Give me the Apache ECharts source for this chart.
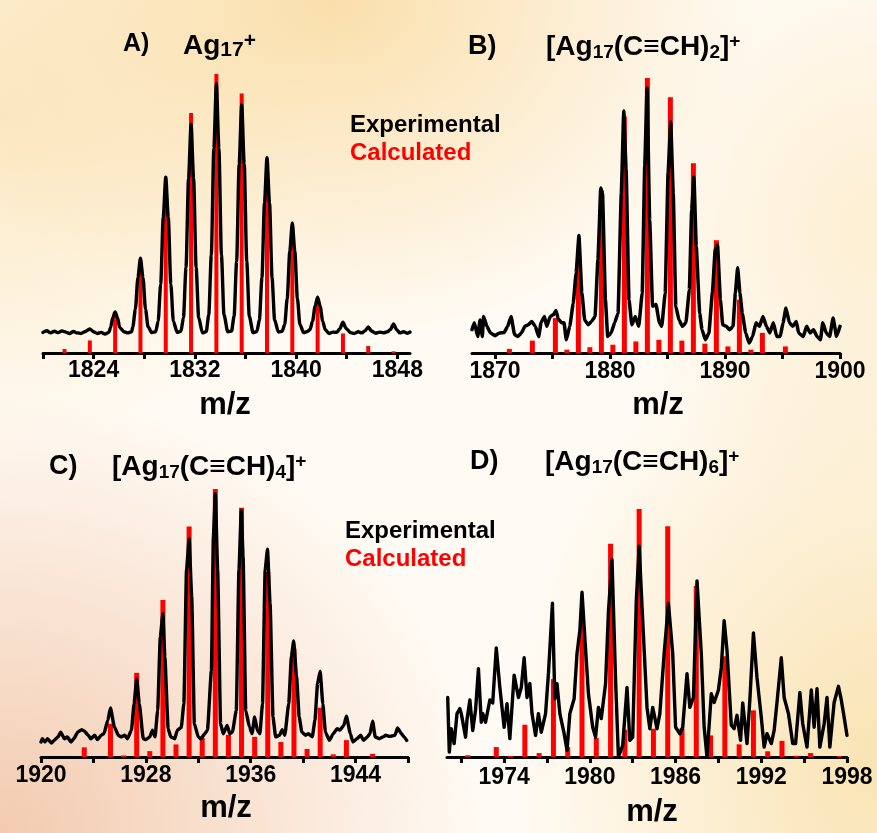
<!DOCTYPE html>
<html>
<head>
<meta charset="utf-8">
<script src="https://cdn.jsdelivr.net/npm/echarts@6/dist/echarts.min.js"></script>
<style>
html,body{margin:0;padding:0;}
body{width:877px;height:833px;overflow:hidden;
background:
 radial-gradient(ellipse 430px 340px at 330px 0px, rgba(249,218,158,0.85), rgba(249,218,158,0) 100%),
 radial-gradient(ellipse 320px 330px at 0px 120px, rgba(251,230,188,0.85), rgba(251,230,188,0) 100%),
 radial-gradient(ellipse 480px 440px at 0px 833px, rgba(242,200,172,0.95), rgba(242,200,172,0) 100%),
 radial-gradient(ellipse 360px 470px at 877px 760px, rgba(249,225,172,0.9), rgba(249,225,172,0) 100%),
 radial-gradient(ellipse 260px 300px at 877px 230px, rgba(252,234,196,0.7), rgba(252,234,196,0) 100%),
 #fffaf3;}
#chart{width:877px;height:833px;}
</style>
</head>
<body>
<div id="chart"></div>
<script>
// ---------- Data ----------
// Panel A: Ag17+
const calcA = [[1821.7,1.4],[1823.7,4.5],[1825.7,13],[1827.7,32],[1829.7,59],[1831.7,86],[1833.7,100],[1835.7,93],[1837.7,69],[1839.7,41],[1841.7,19],[1843.7,7],[1845.7,2.5],[1847.7,0.6]];
const expA = [[1820.0,7.4],[1820.3,8.0],[1820.6,7.2],[1820.9,7.8],[1821.2,7.3],[1821.5,7.9],[1821.8,7.5],[1822.1,7.0],[1822.4,7.7],[1822.7,7.2],[1823.0,7.0],[1823.3,7.6],[1823.7,8.6],[1824.0,7.6],[1824.3,7.0],[1824.6,7.4],[1824.9,6.8],[1825.2,7.4],
[1825.35,9.2],[1825.5,12.6],[1825.7,14.7],[1825.9,12.6],[1826.05,9.2],[1826.4,7.6],[1826.7,7.2],[1827.0,7.6],
[1827.1,9.4],[1827.3,15.7],[1827.5,27.1],[1827.7,34],[1827.9,27.1],[1828.1,15.7],[1828.3,9.4],[1828.6,7.3],[1828.9,7.6],
[1829.1,11.4],[1829.3,24.7],[1829.5,48.6],[1829.7,63],[1829.9,48.6],[1830.1,24.7],[1830.3,11.4],[1830.6,7.4],[1830.9,7.8],
[1831.1,12.7],[1831.3,30.6],[1831.5,62.6],[1831.7,82],[1831.9,62.6],[1832.1,30.6],[1832.3,12.7],[1832.6,7.2],[1832.9,7.7],
[1833.1,13.7],[1833.3,35.1],[1833.5,73.3],[1833.7,96.4],[1833.9,73.3],[1834.1,35.1],[1834.3,13.7],[1834.6,7.6],[1834.9,7.9],
[1835.1,13.2],[1835.3,32.8],[1835.5,67.8],[1835.7,89],[1835.9,67.8],[1836.1,32.8],[1836.3,13.2],[1836.6,7.3],[1836.9,7.7],
[1837.1,11.9],[1837.3,26.9],[1837.5,53.8],[1837.7,70],[1837.9,53.8],[1838.1,26.9],[1838.3,11.9],[1838.6,7.5],[1838.9,7.8],
[1839.1,10.2],[1839.3,19.6],[1839.5,36.4],[1839.7,46.6],[1839.9,36.4],[1840.1,19.6],[1840.3,10.2],[1840.6,7.3],[1840.9,7.7],
[1841.1,8.4],[1841.3,11.4],[1841.5,16.8],[1841.7,20],[1841.9,16.8],[1842.1,11.4],[1842.3,8.4],[1842.6,7.0],[1842.9,7.5],[1843.2,7.4],
[1843.45,8.6],[1843.7,11],[1843.95,8.8],[1844.3,7.3],[1844.6,7.0],[1844.9,7.6],[1845.2,7.2],
[1845.45,8.0],[1845.7,9.3],[1845.95,7.9],[1846.3,7.1],[1846.6,7.5],[1846.9,7.2],[1847.2,7.6],
[1847.45,8.4],[1847.7,10.4],[1847.95,8.3],[1848.2,7.2],[1848.5,7.6],[1848.8,7.1],[1849.0,7.5]];
const ticksA = [1820,1824,1828,1832,1836,1840,1844,1848];
const labelsA = [1824,1832,1840,1848];

// Panel B: [Ag17(C≡CH)2]+
const calcB = [[1871.25,1.5],[1873.25,4.5],[1875.25,12.7],[1876.25,1.2],[1877.25,32],[1878.25,2.1],[1879.25,59],[1880.25,3.0],[1881.25,86],[1882.25,4.2],[1883.25,100],[1884.25,4.8],[1885.25,93],[1886.25,4.5],[1887.25,69],[1888.25,3.4],[1889.25,41],[1890.25,2.4],[1891.25,19.4],[1892.25,1.2],[1893.25,7.3],[1895.25,2.4]];
const expB = [[1868.0,8.5],[1868.2,11],[1868.5,6],[1868.7,12],[1868.9,6],[1869.0,13.3],[1869.3,9.7],[1869.6,7.3],[1870.0,6.3],[1870.4,7.3],[1870.8,7.5],[1871.1,9.7],[1871.4,13.3],[1871.7,6.7],[1872.0,6],[1872.3,7.3],[1872.6,9.7],[1872.9,10.3],[1873.2,11.5],[1873.5,9.7],[1873.8,6],[1874.0,11],[1874.3,13.3],[1874.5,9.7],[1874.8,13.3],[1875.1,14],[1875.3,15.5],[1875.5,12.4],[1875.8,11],[1876.0,11],[1876.2,4.8],[1876.5,9.7],[1876.8,18],[1877.05,29],[1877.3,42.7],[1877.55,22],[1877.8,12],[1878.1,10.3],[1878.4,11.5],[1878.7,13.3],[1878.95,34],[1879.2,60],[1879.35,58],[1879.6,19.4],[1879.8,6],[1880.1,7.3],[1880.4,11],[1880.7,14.5],[1880.98,58],[1881.2,88],[1881.4,66.7],[1881.65,19.4],[1881.9,10.3],[1882.2,13.3],[1882.5,9.7],[1882.8,21.8],[1883.02,68],[1883.22,96.4],[1883.45,48.5],[1883.7,17],[1884.0,17.6],[1884.3,11],[1884.5,9.7],[1884.8,21.8],[1885.05,65.5],[1885.28,84],[1885.5,58],[1885.72,17],[1886.0,12],[1886.3,9.7],[1886.6,11],[1886.9,23],[1887.1,52],[1887.3,64],[1887.5,38.8],[1887.8,14.5],[1888.0,8.5],[1888.3,4.8],[1888.6,7.3],[1888.9,21.8],[1889.15,37.6],[1889.35,39.4],[1889.6,19.4],[1889.8,10.3],[1890.1,9.7],[1890.4,8.5],[1890.7,9.7],[1890.9,21.8],[1891.1,31],[1891.3,21.8],[1891.5,14.5],[1891.8,7.3],[1892.1,3.6],[1892.4,6],[1892.7,11],[1893.0,9.7],[1893.3,13.3],[1893.6,9.7],[1893.9,7.3],[1894.2,11],[1894.5,6],[1894.8,6],[1895.05,11],[1895.3,16.4],[1895.6,11],[1895.9,9.7],[1896.2,11.5],[1896.4,7.3],[1896.8,6],[1897.1,9.7],[1897.4,7.3],[1897.7,8.5],[1898.0,6],[1898.3,4.8],[1898.5,11],[1898.8,7.3],[1899.1,6],[1899.4,12.7],[1899.7,6],[1900.0,9.7]];
const ticksB = [1870,1875,1880,1885,1890,1895,1900];
const labelsB = [1870,1880,1890,1900];

// Panel C: [Ag17(C≡CH)4]+
const calcC = [[1923.3,3.6],[1925.3,12.4],[1926.3,0.6],[1927.3,31.4],[1928.3,2.2],[1929.3,58.6],[1930.3,4.7],[1931.3,86],[1932.3,7.1],[1933.3,100],[1934.3,8.3],[1935.3,93],[1936.3,7.5],[1937.3,69],[1938.3,5.6],[1939.3,40.4],[1940.3,3.0],[1941.3,18.4],[1942.3,1.0],[1943.3,6.3],[1945.3,1.2]];
const expC = [[1920.0,5.6],[1920.1,6.8],[1920.3,5.6],[1920.5,6.8],[1920.8,5.2],[1921.0,6.2],[1921.3,7.5],[1921.5,9.3],[1921.8,6.8],[1922.0,7.5],[1922.3,5.6],[1922.5,6.8],[1922.8,9.3],[1923.1,10.2],[1923.3,9.7],[1923.6,8.1],[1923.8,6.8],[1924.1,8.1],[1924.3,6.5],[1924.6,8.1],[1924.8,8.7],[1925.1,13.7],[1925.3,18.3],[1925.6,11.2],[1925.9,8.1],[1926.1,7.5],[1926.4,8.1],[1926.6,6.8],[1926.9,10],[1927.1,19.9],[1927.3,29.2],[1927.5,19.9],[1927.8,6.8],[1928.0,6.5],[1928.3,7.5],[1928.5,10],[1928.7,7.5],[1928.9,17.4],[1929.1,44.8],[1929.3,53.5],[1929.45,37.3],[1929.7,10.6],[1929.9,7.5],[1930.2,6.8],[1930.4,10],[1930.7,11],[1930.9,19.9],[1931.1,69.7],[1931.3,81.5],[1931.5,59.7],[1931.7,12.4],[1932.0,7.5],[1932.2,6.8],[1932.5,8.7],[1932.7,10],[1933.0,32.3],[1933.15,82],[1933.3,98.3],[1933.48,69.7],[1933.7,12.4],[1933.9,8.7],[1934.2,11.8],[1934.4,8.7],[1934.6,9.3],[1934.9,17.4],[1935.1,69.7],[1935.28,92],[1935.42,74.6],[1935.62,17.4],[1935.9,11.2],[1936.1,8.7],[1936.3,14.9],[1936.5,10],[1936.7,8.7],[1936.9,19.9],[1937.1,69.7],[1937.28,77.5],[1937.48,57.2],[1937.7,14.9],[1937.9,7.5],[1938.2,8.1],[1938.4,10.2],[1938.6,8.1],[1938.9,19.9],[1939.1,37.3],[1939.28,43.3],[1939.5,29.9],[1939.7,14.9],[1939.9,9.3],[1940.2,8.1],[1940.4,8.7],[1940.7,7.5],[1940.9,13.7],[1941.1,27.4],[1941.3,32],[1941.5,19.9],[1941.7,9.3],[1942.0,6.2],[1942.3,8.7],[1942.6,10.6],[1942.8,10],[1943.1,11.8],[1943.3,15.2],[1943.6,8.7],[1943.8,5.6],[1944.1,6.8],[1944.4,8.1],[1944.6,6.2],[1944.9,7.5],[1945.1,8.7],[1945.3,13.4],[1945.5,7.5],[1945.8,6.8],[1946.1,7.5],[1946.3,8.1],[1946.6,7.7],[1947.0,8.1],[1947.2,10.8],[1947.5,8.7],[1947.7,7.5],[1947.9,6.2]];
const ticksC = [1920,1924,1928,1932,1936,1940,1944,1948];
const labelsC = [1920,1928,1936,1944];

// Panel D: [Ag17(C≡CH)6]+
const calcD = [[1971.45,0.7],[1973.45,4],[1974.45,0.4],[1975.45,13],[1976.45,1.6],[1977.45,31.4],[1978.45,4],[1979.45,58],[1980.45,7.7],[1981.45,86],[1982.45,11],[1983.45,100],[1984.45,11.4],[1985.45,93],[1986.45,11.5],[1987.45,69],[1988.45,8.7],[1989.45,40.6],[1990.45,5.1],[1991.45,18.8],[1992.45,2.3],[1993.45,6.5],[1994.45,0.5],[1995.45,1.6],[1997.45,0.4]];
const expD = [[1970.05,24],[1970.16,2],[1970.3,11.4],[1970.5,5.4],[1970.7,17.5],[1970.9,19.5],[1971.0,17.5],[1971.3,8],[1971.4,15],[1971.6,23],[1971.8,10.7],[1972.0,19],[1972.2,35.6],[1972.4,14],[1972.5,17.5],[1972.7,14],[1973.0,23],[1973.2,21.8],[1973.45,44],[1973.7,28],[1974.0,12],[1974.2,21.5],[1974.4,7.4],[1974.7,33],[1975.0,24],[1975.2,28],[1975.4,40],[1975.6,24],[1975.8,29.6],[1975.95,17.5],[1976.2,8.7],[1976.4,17.5],[1976.6,10],[1976.9,17.5],[1977.1,33.6],[1977.38,62],[1977.55,23.5],[1977.7,29.6],[1977.9,17.5],[1978.2,9.4],[1978.4,2.7],[1978.6,17.5],[1978.9,23.5],[1979.1,41.7],[1979.3,51],[1979.45,66.5],[1979.65,48],[1979.9,25.5],[1980.2,12],[1980.4,8],[1980.6,20],[1980.8,15.5],[1981.1,29.6],[1981.3,58.5],[1981.55,79.6],[1981.8,31],[1982.0,0],[1982.3,4.7],[1982.6,28],[1982.8,6.7],[1983.0,8],[1983.25,63],[1983.45,85],[1983.7,55],[1984.0,20],[1984.2,11.4],[1984.4,20],[1984.7,11.4],[1984.9,17.5],[1985.2,41.7],[1985.5,62],[1985.8,41.7],[1986.0,12],[1986.3,9.4],[1986.5,12],[1986.8,33.6],[1987.0,20],[1987.25,24],[1987.5,71],[1987.8,41.7],[1988.0,12],[1988.2,0],[1988.5,25.5],[1988.7,22],[1989.0,27],[1989.2,36],[1989.4,55],[1989.6,43],[1989.9,12.8],[1990.1,11.4],[1990.3,16.8],[1990.55,6.7],[1990.7,21.8],[1991.0,5.4],[1991.2,23],[1991.45,50],[1991.7,32],[1992.0,16],[1992.2,4],[1992.4,9.4],[1992.7,5.4],[1992.9,10.7],[1993.1,22],[1993.4,40],[1993.6,24],[1993.9,17.5],[1994.2,5.4],[1994.4,5.4],[1994.7,26],[1994.9,13.4],[1995.2,4],[1995.5,27],[1995.7,12],[1995.9,27.5],[1996.1,4],[1996.4,13.4],[1996.6,24],[1996.8,4],[1997.1,22],[1997.4,28.5],[1997.6,23],[1997.8,16],[1998.0,8.7]];
const ticksD = [1971,1974,1977,1980,1983,1986,1989,1992,1995,1998];
const labelsD = [1974,1980,1986,1992,1998];

// ---------- Chart ----------
const FF = "'Liberation Sans', Arial, Helvetica, sans-serif";
const chart = echarts.init(document.getElementById('chart'), null, {renderer: 'canvas'});

const panels = [
  {grid:{left:43, top:74, width:367, height:279}, min:1820, max:1849, ticks:ticksA, labels:labelsA, calc:calcA, exp:expA, bw:4, lw:3.4, margin:6, smooth:0.25},
  {grid:{left:472, top:78, width:368, height:275}, min:1868, max:1900, ticks:ticksB, labels:labelsB, calc:calcB, exp:expB, bw:5, lw:3.5, margin:7, smooth:0.12},
  {grid:{left:41, top:489, width:367, height:268}, min:1920, max:1948, ticks:ticksC, labels:labelsC, calc:calcC, exp:expC, bw:5, lw:3.4, margin:7, smooth:0.15},
  {grid:{left:447, top:509, width:400, height:248}, min:1970, max:1998, ticks:ticksD, labels:labelsD, calc:calcD, exp:expD, bw:5, lw:3.4, margin:9, smooth:false}
];

const grids = [], xAxes = [], yAxes = [], series = [];
panels.forEach((p, i) => {
  grids.push(p.grid);
  xAxes.push({
    gridIndex:i, type:'value', min:p.min, max:p.max,
    axisLine:{show:true, onZero:false, lineStyle:{color:'#000', width:3}},
    axisTick:{show:true, inside:false, length:6, lineStyle:{color:'#000', width:3}, customValues:p.ticks},
    axisLabel:{show:true, customValues:p.labels, formatter:(v) => String(v), fontSize:23, fontWeight:'bold', color:'#000', fontFamily:FF, margin:p.margin},
    splitLine:{show:false}
  });
  yAxes.push({gridIndex:i, type:'value', min:0, max:100, show:false, splitLine:{show:false}});
  series.push({
    type:'bar', xAxisIndex:i, yAxisIndex:i, data:p.calc, barWidth:p.bw,
    itemStyle:{color:'#ff0000'}, z:2, silent:true
  });
  series.push({
    type:'line', xAxisIndex:i, yAxisIndex:i, data:p.exp, showSymbol:false, smooth:p.smooth, smoothMonotone:'x',
    lineStyle:{color:'#000', width:p.lw, join:'round', cap:'round'}, z:3, silent:true
  });
});

const richMain = (fs, ss) => ({
  m:{fontSize:fs, fontWeight:'bold', fontFamily:FF, color:'#000', lineHeight:30},
  s:{fontSize:ss, fontWeight:'bold', fontFamily:FF, color:'#000', lineHeight:12, verticalAlign:'bottom'},
  p:{fontSize:ss, fontWeight:'bold', fontFamily:FF, color:'#000', lineHeight:14, verticalAlign:'top'}
});
function titleEl(x, y, text, fs, ss) {
  return {type:'text', left:x, top:y, style:{text:text, rich:richMain(fs, ss || 19)}};
}
function plain(x, y, text, color, fs) {
  return {type:'text', x:x, y:y, style:{text:text, fill:color, fontSize:fs, fontWeight:'bold', fontFamily:FF, align:'left', verticalAlign:'middle'}};
}
function centered(x, y, text, fs) {
  return {type:'text', x:x, y:y, style:{text:text, fill:'#000', fontSize:fs, fontWeight:'bold', fontFamily:FF, align:'center', verticalAlign:'middle'}};
}

const graphic = [
  titleEl(123, 32, '{m|A)}', 25),
  titleEl(183, 31, '{m|Ag}{s|17}{p|+}', 28, 21),
  titleEl(468, 33, '{m|B)}', 27),
  titleEl(546, 32, '{m|[Ag}{s|17}{m|(C≡CH)}{s|2}{m|]}{p|+}', 28),
  titleEl(49, 453, '{m|C)}', 27),
  titleEl(112, 452, '{m|[Ag}{s|17}{m|(C≡CH)}{s|4}{m|]}{p|+}', 28),
  titleEl(470, 448, '{m|D)}', 27),
  titleEl(545, 447, '{m|[Ag}{s|17}{m|(C≡CH)}{s|6}{m|]}{p|+}', 28),
  plain(350, 125, 'Experimental', '#000', 24),
  plain(350, 153, 'Calculated', '#ff0000', 24),
  plain(345, 531, 'Experimental', '#000', 24),
  plain(345, 559, 'Calculated', '#ff0000', 24),
  centered(225, 405, 'm/z', 31),
  centered(658, 405, 'm/z', 31),
  centered(226, 808, 'm/z', 31),
  centered(652, 812, 'm/z', 31)
];

chart.setOption({
  animation:false,
  backgroundColor:'transparent',
  grid:grids, xAxis:xAxes, yAxis:yAxes, series:series, graphic:graphic
});
</script>
</body>
</html>
